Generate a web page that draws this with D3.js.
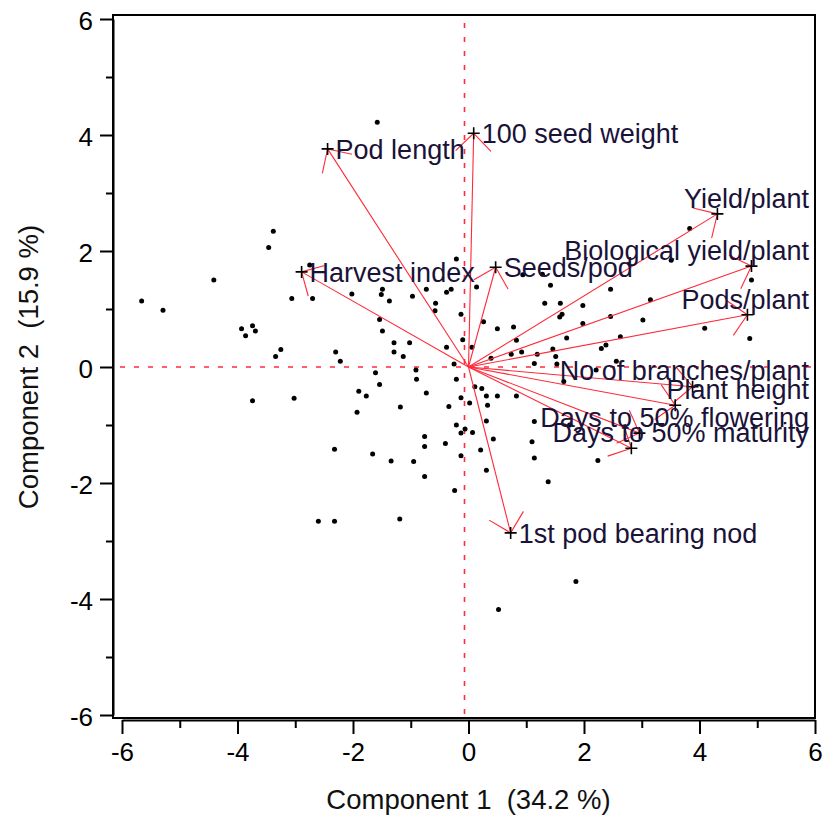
<!DOCTYPE html>
<html><head><meta charset="utf-8">
<script src="https://cdn.jsdelivr.net/npm/d3@7"></script>
<style>body{margin:0;background:#fff}text{font-family:"Liberation Sans",Arial,sans-serif}</style>
</head><body>
<svg id="c" width="827" height="817"></svg>
<script>
// ---- data ----
const xTickValues = [-6, -4, -2, 0, 2, 4, 6];
const yTickValues = [-6, -4, -2, 0, 2, 4, 6];
const minorTickValues = [-5, -3, -1, 1, 3, 5];
const xTitle = "Component 1  (34.2 %)";
const yTitle = "Component 2  (15.9 %)";

const scoreX = [-1.58,-3.38,-3.46,-4.41,-5.66,-5.29,-3.06,-2.70,-2.02,-3.93,-3.74,-3.69,-3.86,-3.25,-3.34,-2.30,-2.22,-3.74,-3.02,-1.90,
  -1.77,-1.93,-2.75,-1.49,-1.51,-1.37,-0.97,-1.54,-1.49,-1.29,-1.02,-1.29,-1.13,-0.91,-1.61,-1.54,-0.73,-0.38,-0.30,0.14,
  -0.57,-0.58,-0.13,0.26,0.50,0.78,-0.10,-0.38,0.06,1.32,1.59,1.42,1.28,0.94,1.98,1.62,1.58,1.98,1.70,0.83,
  1.46,0.92,0.74,0.39,1.19,1.51,1.14,-0.25,-0.90,-0.21,0.11,0.23,0.31,0.50,0.83,-0.13,-0.73,0.02,-0.34,0.33,
  -1.18,1.65,2.21,2.30,2.38,1.53,0.31,1.14,0.07,0.43,3.83,3.51,4.90,4.87,4.09,3.15,3.02,2.46,2.46,2.63,
  -0.21,1.10,1.14,0.21,-0.13,-0.13,-0.21,-0.76,-0.76,-0.40,0.31,-0.76,-0.95,2.24,-2.32,-1.66,-1.34,-0.24,1.38,-2.60,
  -2.32,-1.19,1.86,0.52,2.56,1.75,-0.06];
const scoreY = [4.22,2.34,2.06,1.50,1.14,0.98,1.18,1.18,1.26,0.66,0.71,0.62,0.54,0.30,0.18,0.26,0.10,-0.58,-0.54,-0.42,
  -0.50,-0.78,1.76,1.34,1.25,1.14,1.22,0.82,0.62,0.42,0.42,0.26,0.18,-0.05,-0.10,-0.30,1.34,1.29,1.34,1.38,
  1.10,0.97,0.91,0.78,0.66,0.69,0.47,0.34,0.34,1.10,1.10,1.41,1.60,1.59,1.06,0.91,0.86,0.75,0.50,0.46,
  0.31,0.26,0.22,0.15,0.22,0.18,0.06,0.05,-0.21,-0.21,-0.34,-0.37,-0.50,-0.50,-0.50,-0.53,-0.45,-0.62,-0.68,-0.66,
  -0.69,-0.25,-0.05,0.32,0.38,0.05,-0.93,-0.94,-1.13,-1.24,2.39,1.84,1.50,0.49,0.67,1.16,0.81,1.34,0.87,0.52,
  1.86,-1.29,-1.57,-1.43,-1.53,-1.14,-1.00,-1.20,-1.37,-1.32,-1.78,-1.89,-1.63,-1.61,-1.42,-1.50,-1.62,-2.13,-1.98,-2.66,
  -2.66,-2.62,-3.70,-4.18,0.10,-1.00,-1.07];

const varNames = ["Pod length","100 seed weight","Yield/plant","Biological yield/plant","Pods/plant",
  "No of branches/plant","Plant height","Days to 50% flowering","Days to 50% maturity",
  "Harvest index","Seeds/pod","1st pod bearing nod"];
const loadX = [-2.44, 0.09, 4.31, 4.90, 4.83, 3.88, 3.58, 2.96, 2.82, -2.89, 0.47, 0.73];
const loadY = [ 3.76, 4.03, 2.64, 1.74, 0.90, -0.34, -0.66, -1.14, -1.40, 1.64, 1.72, -2.86];

// ---- layout ----
const svg = d3.select("#c");
const box = {l: 113, t: 15, r: 815, b: 718};
const x = d3.scaleLinear().domain([-6, 6]).range([122, 815]);
const y = d3.scaleLinear().domain([-6, 6]).range([715, 19]);
const red = "#ff2a3a";
const fs = 26, lfs = 27, tfs = 27.5;

// frame
svg.append("rect").attr("x", box.l).attr("y", box.t)
  .attr("width", box.r - box.l).attr("height", box.b - box.t)
  .attr("fill", "none").attr("stroke", "#000").attr("stroke-width", 2);

// axes
function styleAxis(g){
  g.selectAll("path.domain").attr("stroke", "#000").attr("stroke-width", 2);
  g.selectAll(".tick line").attr("stroke", "#000").attr("stroke-width", 2);
  g.selectAll(".tick text").attr("fill", "#000").style("font-size", fs + "px")
    .style("font-family", '"Liberation Sans",Arial,sans-serif');
}
const xAxisY = 720;
const gx = svg.append("g").attr("transform", `translate(0,${xAxisY})`)
  .call(d3.axisBottom(x).tickValues(xTickValues).tickSize(14).tickSizeOuter(0).tickPadding(9)
    .tickFormat(d => String(d).replace("\u2212", "-")));
styleAxis(gx);
const gxm = svg.append("g").attr("transform", `translate(0,${xAxisY})`)
  .call(d3.axisBottom(x).tickValues(minorTickValues).tickSize(8).tickSizeOuter(0).tickFormat(""));
styleAxis(gxm); gxm.select("path.domain").remove();

const gy = svg.append("g").attr("transform", `translate(${box.l},0)`)
  .call(d3.axisLeft(y).tickValues(yTickValues).tickSize(13).tickSizeOuter(0).tickPadding(7)
    .tickFormat(d => String(d).replace("\u2212", "-")));
styleAxis(gy);
gy.selectAll(".tick text").attr("dy", "0.42em");
const gym = svg.append("g").attr("transform", `translate(${box.l},0)`)
  .call(d3.axisLeft(y).tickValues(minorTickValues).tickSize(7).tickSizeOuter(0).tickFormat(""));
styleAxis(gym); gym.select("path.domain").remove();

// axis titles
svg.append("text").attr("x", x(0)).attr("y", 809).attr("text-anchor", "middle")
  .style("font-size", tfs + "px").style("white-space", "pre").attr("fill", "#111").text(xTitle);
svg.append("text").attr("transform", `translate(38,${y(0)}) rotate(-90)`).attr("text-anchor", "middle")
  .style("font-size", tfs + "px").style("white-space", "pre").attr("fill", "#111").text(yTitle);

// reference dashed lines
svg.append("line").attr("x1", 120).attr("x2", box.r - 3).attr("y1", y(0)).attr("y2", y(0))
  .attr("stroke", red).attr("stroke-width", 1.6).attr("stroke-dasharray", "5,9");
svg.append("line").attr("x1", x(0) - 4).attr("x2", x(0) - 4).attr("y1", box.t + 8).attr("y2", y(-6))
  .attr("stroke", red).attr("stroke-width", 1.6).attr("stroke-dasharray", "5,9");

// scores
svg.append("g").selectAll("circle").data(scoreX).join("circle")
  .attr("cx", (d, i) => x(d)).attr("cy", (d, i) => y(scoreY[i])).attr("r", 2.5).attr("fill", "#000");

// loading vectors
const vg = svg.append("g");
const hl = 25, ha = Math.PI / 4;
varNames.forEach((name, i) => {
  const x0 = x(0), y0 = y(0), x1 = x(loadX[i]), y1 = y(loadY[i]);
  vg.append("line").attr("x1", x0).attr("y1", y0).attr("x2", x1).attr("y2", y1)
    .attr("stroke", red).attr("stroke-width", 1.1);
  const ang = Math.atan2(y0 - y1, x0 - x1);
  [ang - ha, ang + ha].forEach(a => {
    vg.append("line").attr("x1", x1).attr("y1", y1)
      .attr("x2", x1 + hl * Math.cos(a)).attr("y2", y1 + hl * Math.sin(a))
      .attr("stroke", red).attr("stroke-width", 1.1);
  });
});

// markers and labels
const lg = svg.append("g");
varNames.forEach((name, i) => {
  const x1 = x(loadX[i]), y1 = y(loadY[i]);
  lg.append("path").attr("d", `M${x1 - 6},${y1}H${x1 + 6}M${x1},${y1 - 6}V${y1 + 6}`)
    .attr("stroke", "#000").attr("stroke-width", 1.6);
  const t = lg.append("text").attr("x", x1 + 8).attr("y", y1).attr("dy", "0.36em")
    .style("font-size", lfs + "px").attr("fill", "#1a1238").text(name);
  const w = t.node().getComputedTextLength();
  if (x1 + 8 + w > box.r - 4) {
    t.attr("x", box.r - 6).attr("text-anchor", "end").attr("y", y1 - 16);
  }
});
</script>
</body></html>
